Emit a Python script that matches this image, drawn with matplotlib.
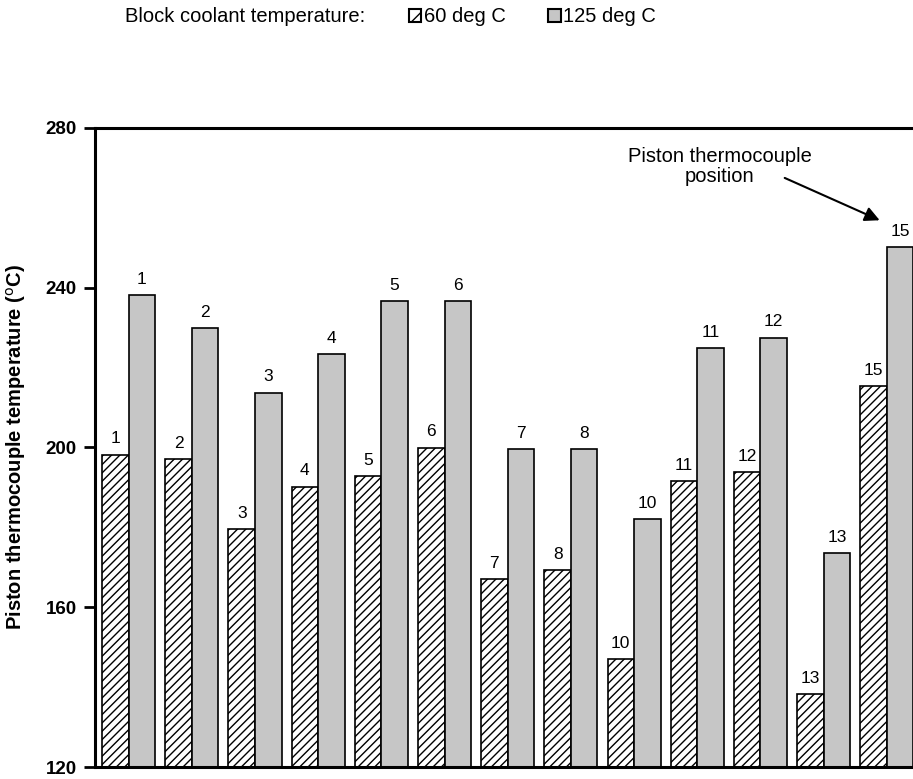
"""Piston thermocouple temperatures at two block coolant temperatures."""

import matplotlib
matplotlib.use("Agg")
import matplotlib.pyplot as plt
from matplotlib.patches import Patch
import numpy as np

plt.rcParams["font.family"] = ["Liberation Sans", "DejaVu Sans"]
plt.rcParams["hatch.linewidth"] = 1.0

# thermocouple positions (position 9 and 14 are not shown)
positions = ["1", "2", "3", "4", "5", "6", "7", "8", "10", "11", "12", "13", "15"]

# piston temperatures in deg C
temp_60 = [198.2, 197.0, 179.5, 190.2, 192.9, 200.0, 167.0, 169.3, 147.0, 191.6, 193.8, 138.2, 215.4]
temp_125 = [238.2, 229.9, 213.7, 223.4, 236.6, 236.6, 199.5, 199.5, 182.0, 224.9, 227.5, 173.6, 250.1]

GRAY = "#c6c6c6"
WIDTH = 913
HEIGHT = 779
DPI = 100
BAR_W = 0.42
FS_BAR = 12.5
FS_TEXT = 14.5


def label_bars(ax, bars, labels):
    """Put the position number above every bar."""
    for bar, text in zip(bars, labels):
        ax.annotate(text, (bar.get_x() + bar.get_width() / 2, bar.get_height() + 120),
                    xytext=(0, 6), textcoords="offset points",
                    ha="center", va="bottom", fontsize=FS_BAR)


def main():
    fig = plt.figure(figsize=(WIDTH / DPI, HEIGHT / DPI), dpi=DPI)
    ax = fig.add_axes([95 / WIDTH, 12 / HEIGHT, 1 - 95 / WIDTH, 639 / HEIGHT])

    x = np.arange(len(positions))
    base = 120
    b60 = ax.bar(x - BAR_W / 2, np.array(temp_60) - base, BAR_W, bottom=base,
                 facecolor="white", edgecolor="black", hatch="////", linewidth=1.2)
    b125 = ax.bar(x + BAR_W / 2, np.array(temp_125) - base, BAR_W, bottom=base,
                  facecolor=GRAY, edgecolor="black", linewidth=1.2)
    label_bars(ax, b60, positions)
    label_bars(ax, b125, positions)

    ax.set_xlim(-0.533, 12.416)
    ax.set_ylim(120, 280)
    ax.set_yticks([120, 160, 200, 240, 280])
    ax.set_xticks([])
    ax.tick_params(axis="y", direction="out", length=8, width=2, pad=5, labelsize=13.5)
    for lab in ax.get_yticklabels():
        lab.set_fontweight("bold")
    for side in ("left", "bottom", "top"):
        ax.spines[side].set_linewidth(2.2)
    ax.spines["right"].set_visible(False)

    ax.set_ylabel("Piston thermocouple temperature ($^{\\rm o}$C)",
                  fontsize=FS_TEXT, fontweight="bold")
    ax.yaxis.set_label_coords(-67 / 818, 0.5)

    # arrow pointing at the thermocouple position label
    ax.text(9.356, 270.3, "Piston thermocouple\nposition", ha="center", va="center",
            fontsize=FS_TEXT, linespacing=1.1)
    ax.annotate("", xy=(11.888, 256.9), xytext=(10.385, 267.5),
                arrowprops=dict(arrowstyle="-|>", color="black", lw=1.5,
                                mutation_scale=22, shrinkA=0, shrinkB=0))

    # legend row at the top
    fig.text(125 / WIDTH, 1 - 17 / HEIGHT, "Block coolant temperature:",
             ha="left", va="center", fontsize=FS_TEXT)
    handles = [Patch(facecolor="white", edgecolor="black", hatch="/", linewidth=1.5,
                     label="60 deg C"),
               Patch(facecolor=GRAY, edgecolor="black", linewidth=1.5, label="125 deg C")]
    fig.legend(handles=handles, loc="center left", ncol=2, frameon=False,
               bbox_to_anchor=(409 / WIDTH, 1 - 17 / HEIGHT), fontsize=FS_TEXT,
               handlelength=0.62, handleheight=0.62, handletextpad=0.12,
               columnspacing=2.1, borderpad=0, borderaxespad=0)

    fig.savefig("out.png", dpi=DPI)
    plt.close(fig)


if __name__ == "__main__":
    main()
